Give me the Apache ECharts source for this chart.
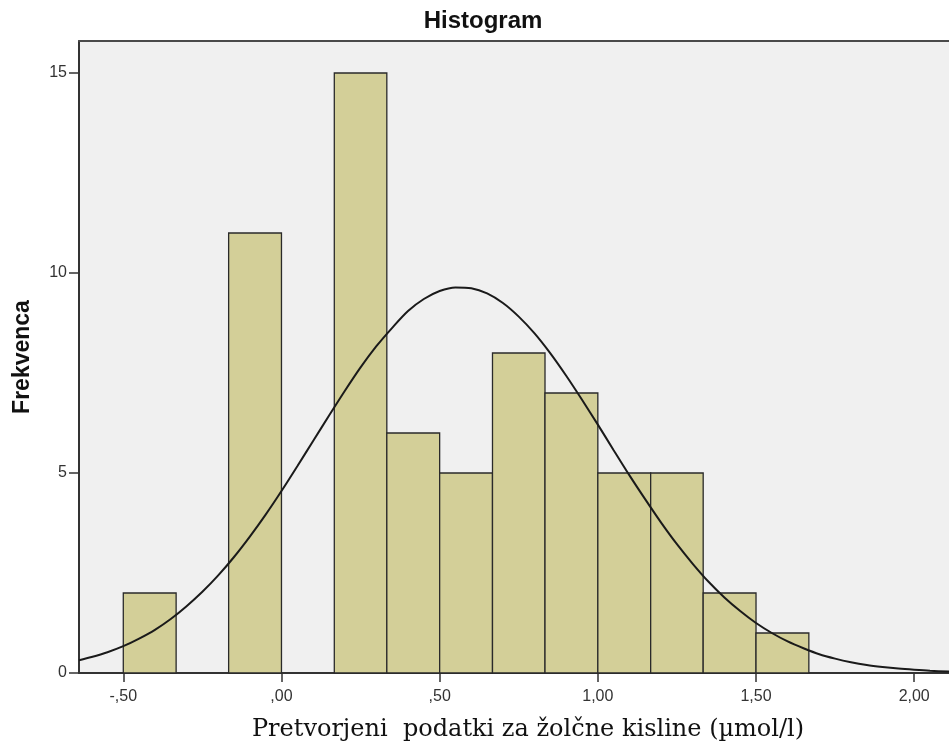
<!DOCTYPE html>
<html>
<head>
<meta charset="utf-8">
<script src="https://cdn.jsdelivr.net/npm/echarts@6/dist/echarts.min.js"></script>
<style>html,body{margin:0;padding:0;background:#fff;}#c{width:949px;height:747px;}</style>
</head>
<body>
<div id="c"></div>
<script>
// Histogram bins (edges) and frequencies
const binEdges = [-0.5, -0.333, -0.167, 0.0, 0.167, 0.333, 0.5, 0.667, 0.833, 1.0, 1.167, 1.333, 1.5, 1.667];
const counts   = [2, 0, 11, 0, 15, 6, 5, 8, 7, 5, 5, 2, 1];

// Normal curve, points
const curveX = [-0.64, -0.60, -0.55, -0.50, -0.45, -0.40, -0.35, -0.30, -0.25, -0.20, -0.15, -0.10, -0.05,
                0.00, 0.05, 0.10, 0.15, 0.20, 0.25, 0.30, 0.35, 0.40, 0.45, 0.50, 0.55, 0.60, 0.65, 0.70, 0.75,
                0.80, 0.85, 0.90, 0.95, 1.00, 1.05, 1.10, 1.15, 1.20, 1.25, 1.30, 1.35, 1.40, 1.45, 1.50, 1.55,
                1.60, 1.65, 1.70, 1.75, 1.80, 1.85, 1.90, 1.95, 2.00, 2.05, 2.11];
const curveY = [0.32, 0.40, 0.52, 0.67, 0.86, 1.08, 1.35, 1.67, 2.03, 2.44, 2.90, 3.41, 3.96,
                4.55, 5.17, 5.80, 6.43, 7.05, 7.64, 8.17, 8.63, 9.05, 9.35, 9.55, 9.64, 9.62, 9.49, 9.25, 8.91,
                8.49, 7.99, 7.43, 6.83, 6.21, 5.57, 4.94, 4.34, 3.76, 3.22, 2.73, 2.28, 1.89, 1.55, 1.25, 1.00,
                0.79, 0.62, 0.47, 0.36, 0.27, 0.20, 0.15, 0.11, 0.08, 0.055, 0.036];

// Axis tick labels
const xTicks = [-0.5, 0, 0.5, 1.0, 1.5, 2.0];
const yTicks = [0, 5, 10, 15];

const titleText = 'Histogram';
const xName = 'Pretvorjeni  podatki za žolčne kisline (µmol/l)';
const yName = 'Frekvenca';

const barData = counts.map((c, i) => [binEdges[i], binEdges[i + 1], c]);
const lineData = curveX.map((x, i) => [x, curveY[i]]);

function fmtX(v) {
  let s = Math.abs(v).toFixed(2).replace('.', ',');
  if (s.startsWith('0,')) s = s.slice(1);
  return (v < 0 ? '-' : '') + s;
}

const chart = echarts.init(document.getElementById('c'));
chart.setOption({
  animation: false,
  backgroundColor: '#ffffff',
  title: {
    text: titleText,
    left: 483,
    top: 9,
    textAlign: 'center',
    padding: 0,
    textStyle: { fontFamily: 'Liberation Sans, Arial', fontWeight: 'bold', fontSize: 24, color: '#111' }
  },
  grid: {
    left: 79, top: 41, right: 0, bottom: 74,
    show: true, backgroundColor: '#f0f0f0', borderWidth: 0
  },
  xAxis: [{
    type: 'value',
    min: -0.64, max: 2.11,
    name: xName,
    nameLocation: 'middle',
    nameGap: 45,
    nameTextStyle: { fontFamily: 'DejaVu Serif', fontSize: 24, color: '#111', padding: [0, 0, 0, 28] },
    axisLine: { show: true, onZero: false, lineStyle: { color: '#333', width: 2 } },
    axisTick: { show: true, length: 9, customValues: xTicks, lineStyle: { color: '#333', width: 1.5 } },
    axisLabel: { customValues: xTicks, margin: 16, formatter: fmtX, fontFamily: 'Liberation Sans, Arial', fontSize: 16, color: '#333' },
    splitLine: { show: false }
  }, {
    type: 'value',
    position: 'top',
    min: -0.64, max: 2.11,
    axisLine: { show: true, onZero: false, lineStyle: { color: '#4a4a4a', width: 2 } },
    axisTick: { show: false },
    axisLabel: { show: false },
    splitLine: { show: false }
  }],
  yAxis: {
    type: 'value',
    min: 0, max: 15.8, interval: 5,
    name: yName,
    nameLocation: 'middle',
    nameGap: 45,
    nameRotate: 90,
    nameTextStyle: { fontFamily: 'Liberation Sans, Arial', fontWeight: 'bold', fontSize: 23, color: '#111' },
    axisLine: { show: true, onZero: false, lineStyle: { color: '#333', width: 2 } },
    axisTick: { show: true, length: 10, customValues: yTicks, lineStyle: { color: '#333', width: 1.5 } },
    axisLabel: { customValues: yTicks, margin: 12, fontFamily: 'Liberation Sans, Arial', fontSize: 16, color: '#333' },
    splitLine: { show: false }
  },
  series: [
    {
      type: 'custom',
      data: barData,
      encode: { x: [0, 1], y: 2 },
      renderItem: function (params, api) {
        const c = api.value(2);
        if (!c) return null;
        const p0 = api.coord([api.value(0), c]);
        const p1 = api.coord([api.value(1), 0]);
        return {
          type: 'rect',
          shape: { x: p0[0], y: p0[1], width: p1[0] - p0[0], height: p1[1] - p0[1] },
          style: { fill: '#d3cf98', stroke: '#2a2a2a', lineWidth: 1.3 }
        };
      },
      z: 2
    },
    {
      type: 'line',
      data: lineData,
      smooth: 0.3,
      showSymbol: false,
      lineStyle: { color: '#1a1a1a', width: 2 },
      z: 3,
      clip: true
    }
  ]
});
</script>
</body>
</html>
